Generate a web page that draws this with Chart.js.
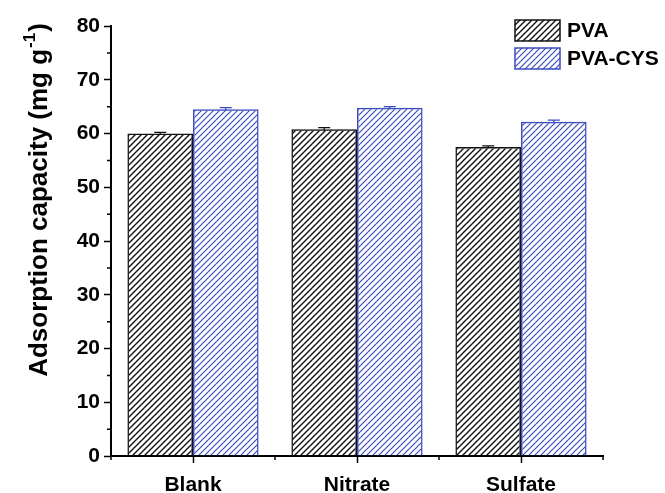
<!DOCTYPE html>
<html>
<head>
<meta charset="utf-8">
<script src="https://cdn.jsdelivr.net/npm/chart.js@4"></script>
<style>
    body { margin: 0; background: #fff; }
    #wrap { width: 665px; height: 493px; }
</style>
</head>
<body>
<div id="wrap"><canvas id="myChart"></canvas></div>
<script>
// datos
const categorias = ['Blank', 'Nitrate', 'Sulfate'];
const pva = [60.0, 60.8, 57.5];
const pvaErr = [0.2, 0.3, 0.2];
const pvaCys = [64.5, 64.8, 62.2];
const pvaCysErr = [0.3, 0.2, 0.3];
const yTicks = [0, 10, 20, 30, 40, 50, 60, 70, 80];

const negro = '#111111';
const azul = '#3a4cbf';
const fuente = '"Liberation Sans", Arial, sans-serif';

// patron rayado
function hatch(color, lw) {
    const c = document.createElement('canvas');
    const s = 6;
    c.width = s; c.height = s;
    const g = c.getContext('2d');
    g.strokeStyle = color;
    g.lineWidth = lw;
    g.beginPath();
    g.moveTo(-1, s + 1); g.lineTo(s + 1, -1);
    g.moveTo(-1, 1); g.lineTo(1, -1);
    g.moveTo(s - 1, s + 1); g.lineTo(s + 1, s - 1);
    g.stroke();
    return g.createPattern(c, 'repeat');
}
const ctx = document.getElementById('myChart').getContext('2d');
const patNegro = hatch(negro, 1.4);
const patAzul = hatch(azul, 1.2);

// barras de error, ticks menores, leyenda y titulo del eje y
const extras = {
    id: 'extras',
    afterDatasetsDraw(chart) {
        const c = chart.ctx;
        const y = chart.scales.y;
        const x = chart.scales.x;
        const errs = [pvaErr, pvaCysErr];
        c.save();
        chart.data.datasets.forEach((ds, i) => {
            const meta = chart.getDatasetMeta(i);
            c.strokeStyle = ds.borderColor;
            c.lineWidth = 1.3;
            meta.data.forEach((bar, j) => {
                const v = ds.data[j];
                const top = y.getPixelForValue(v + errs[i][j]);
                const bot = y.getPixelForValue(v - errs[i][j]);
                c.beginPath();
                c.moveTo(bar.x, top); c.lineTo(bar.x, bot);
                c.moveTo(bar.x - 6, top); c.lineTo(bar.x + 6, top);
                c.stroke();
            });
        });
        // ticks menores
        c.strokeStyle = '#000';
        c.lineWidth = 1.5;
        c.beginPath();
        for (let v = 5; v < 80; v += 10) {
            const py = y.getPixelForValue(v);
            c.moveTo(x.left - 4, py); c.lineTo(x.left, py);
        }
        for (let k = 0; k <= categorias.length; k++) {
            const px = x.getPixelForValue(k - 0.5);
            c.moveTo(px, y.bottom); c.lineTo(px, y.bottom + 4);
        }
        c.stroke();
        // leyenda
        const items = [['PVA', patNegro, negro], ['PVA-CYS', patAzul, azul]];
        c.font = 'bold 21px ' + fuente;
        c.textBaseline = 'middle';
        c.textAlign = 'left';
        items.forEach((it, k) => {
            const lx = 515, ly = 20 + k * 28, w = 45, h = 21;
            c.fillStyle = '#fff';
            c.fillRect(lx, ly, w, h);
            c.fillStyle = it[1];
            c.fillRect(lx, ly, w, h);
            c.strokeStyle = it[2];
            c.lineWidth = 1.5;
            c.strokeRect(lx, ly, w, h);
            c.fillStyle = '#000';
            c.fillText(it[0], lx + 52, ly + h / 2 + 1);
        });
        // titulo del eje y con superindice
        const t1 = 'Adsorption capacity (mg g';
        const sup = '-1';
        const t2 = ')';
        c.font = 'bold 26px ' + fuente;
        const w1 = c.measureText(t1).width;
        const w3 = c.measureText(t2).width;
        c.font = 'bold 17px ' + fuente;
        const w2 = c.measureText(sup).width;
        const total = w1 + w2 + w3 + 2;
        c.translate(47, 200);
        c.rotate(-Math.PI / 2);
        c.textBaseline = 'alphabetic';
        c.fillStyle = '#000';
        let px = -total / 2;
        c.font = 'bold 26px ' + fuente;
        c.fillText(t1, px, 0);
        px += w1 + 1;
        c.font = 'bold 17px ' + fuente;
        c.fillText(sup, px, -12);
        px += w2 + 1;
        c.font = 'bold 26px ' + fuente;
        c.fillText(t2, px, 0);
        c.restore();
    }
};

new Chart(ctx, {
    type: 'bar',
    data: {
        labels: categorias,
        datasets: [
            {
                label: 'PVA',
                data: pva,
                backgroundColor: patNegro,
                borderColor: negro,
                borderWidth: 1.5
            },
            {
                label: 'PVA-CYS',
                data: pvaCys,
                backgroundColor: patAzul,
                borderColor: azul,
                borderWidth: 1.5
            }
        ]
    },
    options: {
        responsive: true,
        maintainAspectRatio: false,
        animation: false,
        layout: { padding: { top: 26, right: 62, left: 0, bottom: 0 } },
        plugins: {
            legend: { display: false },
            tooltip: { enabled: false }
        },
        datasets: {
            bar: { categoryPercentage: 0.8, barPercentage: 1.0 }
        },
        scales: {
            x: {
                offset: true,
                grid: {
                    offset: false,
                    drawOnChartArea: false,
                    tickLength: 7,
                    tickColor: '#000',
                    tickWidth: 1.5
                },
                border: { color: '#000', width: 2 },
                ticks: {
                    color: '#000',
                    padding: 10,
                    font: { family: fuente, size: 21, weight: 'bold' }
                },
                afterFit(scale) { scale.height = 37; }
            },
            y: {
                min: 0,
                max: 80,
                afterBuildTicks(scale) { scale.ticks = yTicks.map(v => ({ value: v })); },
                grid: {
                    drawOnChartArea: false,
                    tickLength: 7,
                    tickColor: '#000',
                    tickWidth: 1.5
                },
                border: { color: '#000', width: 2 },
                ticks: {
                    color: '#000',
                    padding: 4,
                    font: { family: fuente, size: 21, weight: 'bold' }
                },
                afterFit(scale) { scale.width = 111; }
            }
        }
    },
    plugins: [extras]
});
</script>
</body>
</html>
